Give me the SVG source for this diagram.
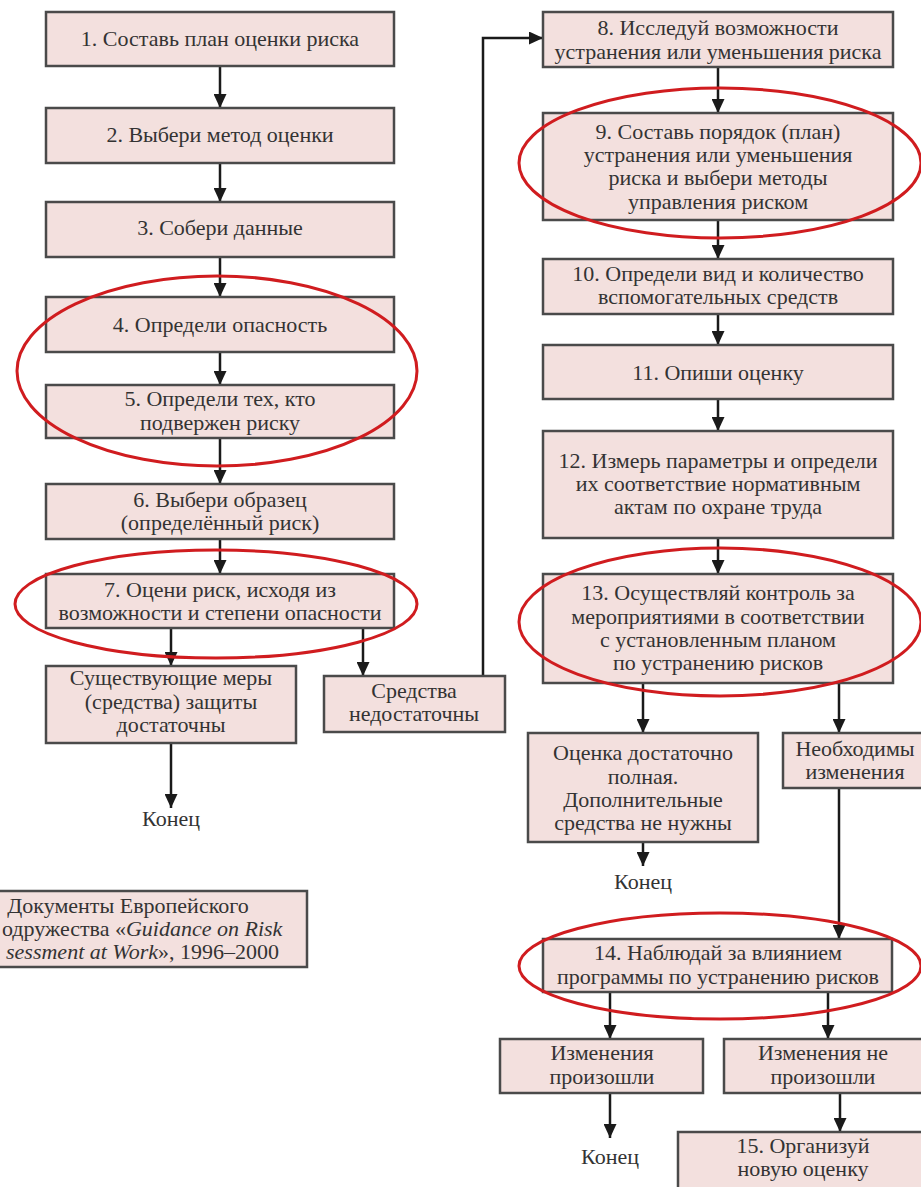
<svg xmlns="http://www.w3.org/2000/svg" width="921" height="1187" viewBox="0 0 921 1187">
<defs>
<style>
.box{fill:#f3e0de;stroke:#4a4a4a;stroke-width:2.5}
.t{font-family:"Liberation Serif","Times New Roman",serif;font-size:22px;fill:#333;text-anchor:middle}
.r{text-anchor:end}
.l{text-anchor:start}
.c{fill:none;stroke:#1a1a1a;stroke-width:2.5}
.e{fill:none;stroke:#d01c1f;stroke-width:3}
</style>
<marker id="ah" viewBox="0 0 14 13" refX="14" refY="6.5" markerWidth="14" markerHeight="13" markerUnits="userSpaceOnUse" orient="auto">
<path d="M0,0 L14,6.5 L0,13 z" fill="#1a1a1a"/>
</marker>
</defs>
<rect width="921" height="1187" fill="#ffffff"/>
<g id="connectors">
<line class="c" x1="220" y1="66" x2="220" y2="108" marker-end="url(#ah)"/>
<line class="c" x1="220" y1="163" x2="220" y2="202" marker-end="url(#ah)"/>
<line class="c" x1="220" y1="257" x2="220" y2="297" marker-end="url(#ah)"/>
<line class="c" x1="220" y1="352" x2="220" y2="385" marker-end="url(#ah)"/>
<line class="c" x1="220" y1="438" x2="220" y2="484" marker-end="url(#ah)"/>
<line class="c" x1="220" y1="539" x2="220" y2="574" marker-end="url(#ah)"/>
<line class="c" x1="171" y1="628" x2="171" y2="666" marker-end="url(#ah)"/>
<line class="c" x1="363" y1="628" x2="363" y2="676" marker-end="url(#ah)"/>
<line class="c" x1="171" y1="743" x2="171" y2="808" marker-end="url(#ah)"/>
<polyline class="c" points="483,676 483,38 543,38" marker-end="url(#ah)"/>
<line class="c" x1="718" y1="67" x2="718" y2="113" marker-end="url(#ah)"/>
<line class="c" x1="718" y1="220" x2="718" y2="259" marker-end="url(#ah)"/>
<line class="c" x1="718" y1="314" x2="718" y2="345" marker-end="url(#ah)"/>
<line class="c" x1="718" y1="399" x2="718" y2="431" marker-end="url(#ah)"/>
<line class="c" x1="718" y1="538" x2="718" y2="574" marker-end="url(#ah)"/>
<line class="c" x1="643" y1="683" x2="643" y2="733" marker-end="url(#ah)"/>
<line class="c" x1="839" y1="683" x2="839" y2="733" marker-end="url(#ah)"/>
<line class="c" x1="643" y1="842" x2="643" y2="866" marker-end="url(#ah)"/>
<line class="c" x1="839" y1="788" x2="839" y2="939" marker-end="url(#ah)"/>
<line class="c" x1="610" y1="992" x2="610" y2="1039" marker-end="url(#ah)"/>
<line class="c" x1="828" y1="992" x2="828" y2="1039" marker-end="url(#ah)"/>
<line class="c" x1="610" y1="1093" x2="610" y2="1138" marker-end="url(#ah)"/>
<line class="c" x1="840" y1="1093" x2="840" y2="1132" marker-end="url(#ah)"/>
</g>
<g id="n1"><rect class="box" x="46" y="12" width="348" height="54"/><text class="t" x="220" y="46">1. Составь план оценки риска</text></g>
<g id="n2"><rect class="box" x="46" y="108" width="348" height="55"/><text class="t" x="220" y="142">2. Выбери метод оценки</text></g>
<g id="n3"><rect class="box" x="46" y="202" width="348" height="55"/><text class="t" x="220" y="235">3. Собери данные</text></g>
<g id="n4"><rect class="box" x="46" y="297" width="348" height="55"/><text class="t" x="220" y="332">4. Определи опасность</text></g>
<g id="n5"><rect class="box" x="46" y="385" width="348" height="53"/><text class="t" x="220" y="406">5. Определи тех, кто</text><text class="t" x="220" y="430">подвержен риску</text></g>
<g id="n6"><rect class="box" x="46" y="484" width="348" height="55"/><text class="t" x="220" y="507">6. Выбери образец</text><text class="t" x="220" y="530">(определённый риск)</text></g>
<g id="n7"><rect class="box" x="46" y="574" width="348" height="54"/><text class="t" x="220" y="597">7. Оцени риск, исходя из</text><text class="t" x="220" y="620">возможности и степени опасности</text></g>
<g id="n7a"><rect class="box" x="46" y="666" width="250" height="77"/><text class="t" x="171" y="685">Существующие меры</text><text class="t" x="171" y="709">(средства) защиты</text><text class="t" x="171" y="732">достаточны</text></g>
<g id="n7b"><rect class="box" x="324" y="676" width="181" height="56"/><text class="t" x="414" y="698">Средства</text><text class="t" x="414" y="721">недостаточны</text></g>
<g id="end1"><text class="t" x="171" y="826">Конец</text></g>
<g id="note"><rect class="box" x="-51" y="891" width="358" height="76"/><text class="t" x="128" y="913">Документы Европейского</text><text class="t l" x="2" y="936">одружества «<tspan font-style="italic">Guidance on Risk</tspan></text><text class="t r" x="279" y="959"><tspan font-style="italic">sessment at Work</tspan>», 1996–2000</text></g>
<g id="n8"><rect class="box" x="543" y="12" width="350" height="55"/><text class="t" x="718" y="35">8. Исследуй возможности</text><text class="t" x="718" y="59">устранения или уменьшения риска</text></g>
<g id="n9"><rect class="box" x="543" y="113" width="350" height="107"/><text class="t" x="718" y="139">9. Составь порядок (план)</text><text class="t" x="718" y="162">устранения или уменьшения</text><text class="t" x="718" y="185">риска и выбери методы</text><text class="t" x="718" y="209">управления риском</text></g>
<g id="n10"><rect class="box" x="543" y="259" width="350" height="55"/><text class="t" x="718" y="281">10. Определи вид и количество</text><text class="t" x="718" y="304">вспомогательных средств</text></g>
<g id="n11"><rect class="box" x="543" y="345" width="350" height="54"/><text class="t" x="718" y="380">11. Опиши оценку</text></g>
<g id="n12"><rect class="box" x="543" y="431" width="350" height="107"/><text class="t" x="718" y="468">12. Измерь параметры и определи</text><text class="t" x="718" y="491">их соответствие нормативным</text><text class="t" x="718" y="514">актам по охране труда</text></g>
<g id="n13"><rect class="box" x="543" y="574" width="350" height="109"/><text class="t" x="718" y="600">13. Осуществляй контроль за</text><text class="t" x="718" y="624">мероприятиями в соответствии</text><text class="t" x="718" y="647">с установленным планом</text><text class="t" x="718" y="670">по устранению рисков</text></g>
<g id="n13a"><rect class="box" x="528" y="733" width="230" height="109"/><text class="t" x="643" y="760">Оценка достаточно</text><text class="t" x="643" y="784">полная.</text><text class="t" x="643" y="807">Дополнительные</text><text class="t" x="643" y="830">средства не нужны</text></g>
<g id="n13b"><rect class="box" x="783" y="733" width="142" height="55"/><text class="t" x="855" y="756">Необходимы</text><text class="t" x="855" y="779">изменения</text></g>
<g id="end2"><text class="t" x="643" y="889">Конец</text></g>
<g id="n14"><rect class="box" x="543" y="939" width="349" height="53"/><text class="t" x="718" y="960">14. Наблюдай за влиянием</text><text class="t" x="718" y="984">программы по устранению рисков</text></g>
<g id="n14a"><rect class="box" x="500" y="1039" width="203" height="54"/><text class="t" x="602" y="1060">Изменения</text><text class="t" x="602" y="1084">произошли</text></g>
<g id="n14b"><rect class="box" x="724" y="1039" width="200" height="54"/><text class="t" x="823" y="1060">Изменения не</text><text class="t" x="823" y="1084">произошли</text></g>
<g id="end3"><text class="t" x="610" y="1164">Конец</text></g>
<g id="n15"><rect class="box" x="678" y="1132" width="250" height="60"/><text class="t" x="803" y="1153">15. Организуй</text><text class="t" x="803" y="1176">новую оценку</text></g>
<g id="highlights">
<ellipse class="e" cx="217" cy="371" rx="200" ry="95"/>
<ellipse class="e" cx="216" cy="604" rx="201" ry="54"/>
<ellipse class="e" cx="720" cy="163" rx="201" ry="75"/>
<ellipse class="e" cx="720" cy="622" rx="201" ry="74"/>
<ellipse class="e" cx="720" cy="966" rx="201" ry="53"/>
</g>
</svg>
